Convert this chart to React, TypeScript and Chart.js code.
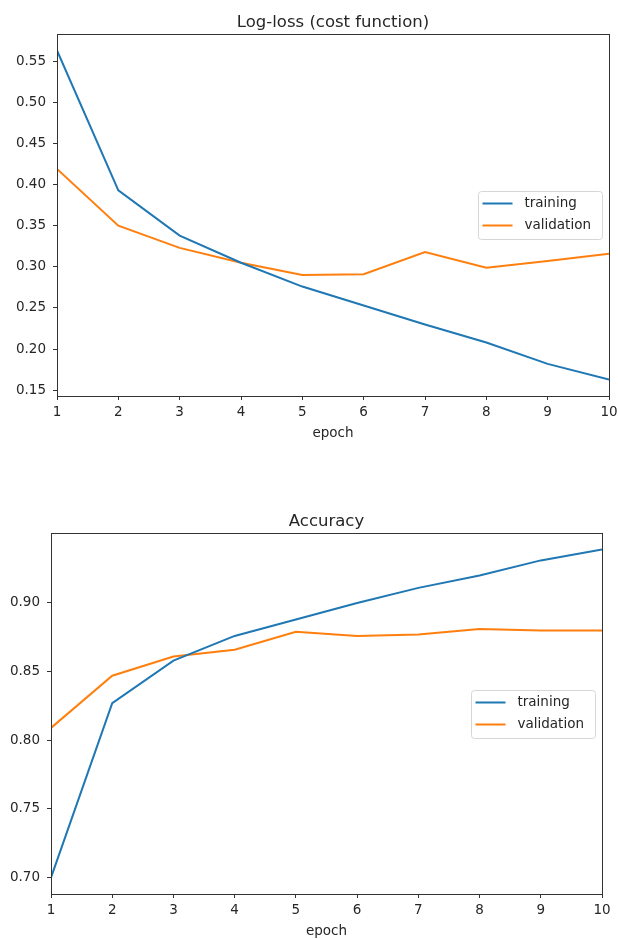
import React, { useEffect, useRef } from 'react';
import { Chart, registerables } from 'chart.js';

Chart.register(...registerables);

// ---- data ----
const EPOCHS = [1, 2, 3, 4, 5, 6, 7, 8, 9, 10];
const LOSS_TRAIN = [0.563, 0.393, 0.338, 0.305, 0.276, 0.253, 0.230, 0.208, 0.182, 0.163];
const LOSS_VAL = [0.419, 0.350, 0.323, 0.305, 0.290, 0.291, 0.318, 0.299, 0.307, 0.316];
const ACC_TRAIN = [0.700, 0.827, 0.858, 0.876, 0.888, 0.900, 0.911, 0.920, 0.931, 0.939];
const ACC_VAL = [0.809, 0.847, 0.861, 0.866, 0.879, 0.876, 0.877, 0.881, 0.880, 0.880];
const LOSS_TICKS = [0.15, 0.2, 0.25, 0.3, 0.35, 0.4, 0.45, 0.5, 0.55];
const ACC_TICKS = [0.7, 0.75, 0.8, 0.85, 0.9];
const SERIES_LABELS = ['training', 'validation'];
const SERIES_COLORS = ['#1f77b4', '#ff7f0e'];
const X_TITLE = 'epoch';
const TITLES = ['Log-loss (cost function)', 'Accuracy'];

const W = 618;
const FAMILY = '"DejaVu Sans", "Liberation Sans", sans-serif';
const TEXT = '#262626';
const AXIS = '#333333';
const TICK_SIZE = 13.5;
const TITLE_SIZE = 16.5;
const XH = 45.5;

type Area = { l: number; r: number; t: number; b: number };

function LineChart(props: {
  title: string;
  train: number[];
  val: number[];
  yTicks: number[];
  canvasTop: number;
  canvasH: number;
  area: Area;
}) {
  const { title, train, val, yTicks, canvasTop, canvasH, area } = props;
  const ref = useRef<HTMLCanvasElement>(null);

  useEffect(() => {
    const all = [...train, ...val];
    const lo = Math.min(...all);
    const hi = Math.max(...all);
    const m = (hi - lo) * 0.05;

    const frame = {
      id: 'frame',
      afterDraw(chart: any) {
        const ctx = chart.ctx as CanvasRenderingContext2D;
        const ca = chart.chartArea;
        ctx.save();
        const x0 = Math.floor(ca.left) + 0.5;
        const x1 = Math.floor(ca.right) + 0.5;
        const y0 = Math.floor(ca.top) + 0.5;
        const y1 = Math.floor(ca.bottom) + 0.5;
        ctx.strokeStyle = AXIS;
        ctx.lineWidth = 1;
        ctx.strokeRect(x0, y0, x1 - x0, y1 - y0);

        // title
        ctx.fillStyle = TEXT;
        ctx.font = `${TITLE_SIZE}px ${FAMILY}`;
        ctx.textAlign = 'center';
        ctx.textBaseline = 'middle';
        ctx.fillText(title, (ca.left + ca.right) / 2, ca.top - 11.5);

        // legend (center right)
        const bw = 124;
        const bh = 48;
        const bx = Math.round(ca.right - 7.5 - bw) + 0.5;
        const by = Math.round((ca.top + ca.bottom) / 2 - bh / 2) + 0.5;
        ctx.beginPath();
        const r = 3;
        ctx.moveTo(bx + r, by);
        ctx.lineTo(bx + bw - r, by);
        ctx.arcTo(bx + bw, by, bx + bw, by + r, r);
        ctx.lineTo(bx + bw, by + bh - r);
        ctx.arcTo(bx + bw, by + bh, bx + bw - r, by + bh, r);
        ctx.lineTo(bx + r, by + bh);
        ctx.arcTo(bx, by + bh, bx, by + bh - r, r);
        ctx.lineTo(bx, by + r);
        ctx.arcTo(bx, by, bx + r, by, r);
        ctx.closePath();
        ctx.fillStyle = 'rgba(255,255,255,0.8)';
        ctx.fill();
        ctx.strokeStyle = '#d6d6d6';
        ctx.stroke();

        ctx.font = `${TICK_SIZE}px ${FAMILY}`;
        ctx.textAlign = 'left';
        ctx.textBaseline = 'middle';
        chart.data.datasets.forEach((ds: any, i: number) => {
          const yy = by + 12 + i * 22;
          ctx.strokeStyle = ds.borderColor;
          ctx.lineWidth = 2;
          ctx.beginPath();
          ctx.moveTo(bx + 4, yy);
          ctx.lineTo(bx + 34, yy);
          ctx.stroke();
          ctx.fillStyle = TEXT;
          ctx.fillText(ds.label, bx + 46, yy);
        });
        ctx.restore();
      },
    };

    const font = { family: FAMILY, size: TICK_SIZE };
    const gridOpts = {
      drawOnChartArea: false,
      drawTicks: true,
      tickLength: 4,
      tickColor: AXIS,
      tickWidth: 1,
    };

    const chart = new Chart(ref.current as HTMLCanvasElement, {
      type: 'line',
      data: {
        datasets: [
          {
            label: SERIES_LABELS[0],
            data: EPOCHS.map((x, i) => ({ x, y: train[i] })),
            borderColor: SERIES_COLORS[0],
            backgroundColor: SERIES_COLORS[0],
            borderWidth: 2,
            pointRadius: 0,
            tension: 0,
            fill: false,
          },
          {
            label: SERIES_LABELS[1],
            data: EPOCHS.map((x, i) => ({ x, y: val[i] })),
            borderColor: SERIES_COLORS[1],
            backgroundColor: SERIES_COLORS[1],
            borderWidth: 2,
            pointRadius: 0,
            tension: 0,
            fill: false,
          },
        ],
      },
      options: {
        animation: false,
        responsive: false,
        devicePixelRatio: 1,
        layout: {
          autoPadding: false,
          padding: {
            top: area.t - canvasTop,
            left: 0,
            right: W - area.r,
            bottom: canvasTop + canvasH - area.b - XH,
          },
        },
        plugins: {
          legend: { display: false },
          title: { display: false },
          tooltip: { enabled: false },
        },
        scales: {
          x: {
            type: 'linear',
            position: 'bottom',
            min: EPOCHS[0],
            max: EPOCHS[EPOCHS.length - 1],
            afterFit(s: any) {
              s.height = XH;
              s.paddingLeft = 0;
              s.paddingRight = 0;
            },
            afterBuildTicks(s: any) {
              s.ticks = EPOCHS.map((v) => ({ value: v }));
            },
            ticks: {
              font,
              color: TEXT,
              padding: 4,
              maxRotation: 0,
              autoSkip: false,
              callback: (v: any) => String(v),
            },
            grid: gridOpts,
            border: { display: true, color: AXIS, width: 1 },
            title: { display: true, text: X_TITLE, font, color: TEXT, padding: 0 },
          },
          y: {
            type: 'linear',
            min: lo - m,
            max: hi + m,
            afterFit(s: any) {
              s.width = area.l;
            },
            afterBuildTicks(s: any) {
              s.ticks = yTicks.map((v) => ({ value: v }));
            },
            ticks: {
              font,
              color: TEXT,
              padding: 7,
              callback: (v: any) => Number(v).toFixed(2),
            },
            grid: gridOpts,
            border: { display: true, color: AXIS, width: 1 },
          },
        },
      } as any,
      plugins: [frame],
    });
    return () => chart.destroy();
  }, []);

  return (
    <canvas
      ref={ref}
      width={W}
      height={canvasH}
      style={{ position: 'absolute', left: 0, top: canvasTop, width: W, height: canvasH, display: 'block' }}
    />
  );
}

export default function App() {
  return (
    <div style={{ position: 'absolute', left: 0, top: 0, width: W, height: 939, background: '#fff' }}>
      <LineChart
        title={TITLES[0]}
        train={LOSS_TRAIN}
        val={LOSS_VAL}
        yTicks={LOSS_TICKS}
        canvasTop={0}
        canvasH={465}
        area={{ l: 57, r: 609, t: 34, b: 396 }}
      />
      <LineChart
        title={TITLES[1]}
        train={ACC_TRAIN}
        val={ACC_VAL}
        yTicks={ACC_TICKS}
        canvasTop={465}
        canvasH={474}
        area={{ l: 51, r: 602, t: 533, b: 894 }}
      />
    </div>
  );
}
